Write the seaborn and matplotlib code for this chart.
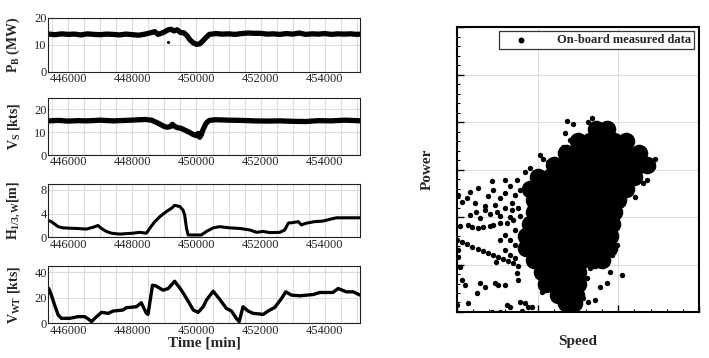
import pandas as pd
import numpy as np
import matplotlib
matplotlib.use("Agg")
import matplotlib.pyplot as plt
from matplotlib.ticker import MultipleLocator, NullFormatter
import seaborn as sns

# --- time series panels (left) ---
pb_time = [445400, 445600, 445800, 446000, 446200, 446400, 446600, 446800, 447000, 447200,
           447400, 447600, 447800, 448000, 448200, 448400, 448600, 448700, 448800, 448900,
           449000, 449100, 449200, 449300, 449400, 449500, 449600, 449700, 449800, 449900,
           450000, 450100, 450200, 450300, 450400, 450600, 450800, 451000, 451200, 451400,
           451600, 451800, 452000, 452200, 452400, 452600, 452800, 453000, 453200, 453400,
           453600, 453800, 454000, 454200, 454400, 454600, 454800, 455000, 455100]
pb_power = [14.0, 13.8, 14.1, 13.9, 14.0, 13.7, 14.1, 13.9, 13.8, 14.0,
            13.9, 13.7, 14.0, 13.8, 13.6, 14.0, 14.6, 14.9, 13.9, 14.3,
            14.8, 15.5, 15.8, 15.2, 15.6, 14.6, 14.5, 13.5, 11.8, 10.8,
            10.2, 10.4, 11.5, 12.8, 13.9, 14.2, 14.0, 14.1, 13.9, 14.2,
            14.4, 14.3, 14.3, 14.0, 14.1, 13.9, 14.2, 14.0, 14.4, 13.9,
            14.1, 14.0, 14.2, 13.9, 14.1, 14.0, 14.1, 13.9, 14.0]
pb_out_time = [449100]
pb_out_power = [11.2]

vs_time = [445400, 445700, 446000, 446300, 446600, 447000, 447400, 447800, 448100, 448400,
           448600, 448800, 449000, 449100, 449200, 449250, 449300, 449400, 449500, 449600,
           449700, 449800, 449900, 450000, 450050, 450100, 450150, 450200, 450300, 450400,
           450600, 451000, 451400, 451800, 452200, 452600, 453000, 453400, 453800, 454200,
           454600, 455000, 455100]
vs_speed = [15.0, 15.2, 14.9, 15.1, 15.0, 15.3, 15.0, 15.2, 15.4, 15.6,
            15.3, 14.0, 12.5, 12.2, 12.6, 13.5, 12.8, 12.0, 11.8, 11.2,
            10.5, 9.8, 9.0, 8.5, 9.5, 7.8, 9.0, 11.0, 14.0, 15.2,
            15.5, 15.3, 15.2, 15.0, 14.9, 15.0, 14.8, 14.7, 15.1, 15.0,
            15.3, 15.1, 15.0]

hs_time = [445400, 445480, 445690, 445840, 446260, 446570, 446780, 446930, 447040, 447190,
           447350, 447610, 448020, 448230, 448440, 448540, 448700, 448860, 449060, 449220,
           449320, 449480, 449580, 449630, 449690, 449740, 449900, 450150, 450310, 450520,
           450720, 451040, 451350, 451660, 451870, 452080, 452280, 452600, 452750, 452860,
           453010, 453170, 453270, 453430, 453680, 453940, 454200, 454360, 454770, 455100]
hs_height = [2.8, 2.65, 1.8, 1.6, 1.5, 1.4, 1.7, 2.0, 1.5, 1.0,
             0.7, 0.55, 0.7, 0.85, 0.7, 1.5, 2.65, 3.5, 4.35, 4.9,
             5.4, 5.2, 4.6, 3.8, 1.5, 0.4, 0.4, 0.4, 1.0, 1.6,
             1.8, 1.6, 1.5, 1.25, 0.85, 1.0, 0.8, 0.85, 1.25, 2.4,
             2.5, 2.65, 2.1, 2.4, 2.65, 2.75, 3.1, 3.3, 3.3, 3.3]

wt_time = [445400, 445480, 445580, 445690, 445790, 446050, 446310, 446520, 446670, 446730,
           446830, 447040, 447250, 447400, 447710, 447810, 448130, 448280, 448440, 448490,
           448630, 448730, 448960, 449120, 449320, 449530, 449690, 449900, 450050, 450210,
           450310, 450520, 450720, 450930, 451090, 451240, 451330, 451450, 451610, 451760,
           452080, 452230, 452440, 452650, 452780, 452960, 453220, 453640, 453840, 454250,
           454410, 454670, 454880, 455100]
wt_speed = [27.3, 22.0, 14.3, 6.5, 3.9, 3.9, 5.2, 5.2, 2.6, 1.3,
            3.9, 8.6, 7.8, 9.6, 10.4, 12.2, 13.0, 16.1, 7.8, 7.0,
            29.9, 29.4, 26.0, 27.3, 33.0, 26.0, 19.5, 10.4, 8.6, 13.0,
            18.2, 25.2, 19.0, 11.7, 9.6, 3.9, 1.3, 13.0, 9.6, 7.8,
            7.0, 9.6, 12.5, 19.5, 24.7, 22.1, 21.6, 22.6, 24.2, 24.2,
            27.3, 24.7, 24.7, 22.1]

# --- speed/power scatter (right) ---
# dense core of the cloud, one row per power level
core_speed = [17.2, 18.6,
              15.0, 16.5, 18.0, 19.5, 21.0,
              13.5, 15.0, 16.5, 18.0, 19.5, 21.0, 22.5,
              12.0, 13.5, 15.0, 16.5, 18.0, 19.5, 21.0, 22.5, 23.5,
              10.0, 11.5, 13.0, 14.5, 16.0, 17.5, 19.0, 20.5, 22.0,
              9.0, 10.5, 12.0, 13.5, 15.0, 16.5, 18.0, 19.5, 21.0,
              9.5, 11.0, 12.5, 14.0, 15.5, 17.0, 18.5, 20.0,
              9.5, 11.0, 12.5, 14.0, 15.5, 17.0, 18.5, 19.5,
              9.0, 10.5, 12.0, 13.5, 15.0, 16.5, 18.0, 19.2,
              8.5, 10.0, 11.5, 13.0, 14.5, 16.0, 17.5, 19.0,
              8.5, 10.0, 11.5, 13.0, 14.5, 16.0, 17.5, 18.8,
              9.5, 11.0, 12.5, 14.0, 15.5, 17.0, 18.0,
              10.5, 12.0, 13.5, 15.0,
              11.0, 12.5, 14.0, 15.0,
              12.5, 13.8, 14.8,
              13.5, 14.5]
core_power = [38.5, 38.5,
              36.0, 36.0, 36.0, 36.0, 36.0,
              33.5, 33.5, 33.5, 33.5, 33.5, 33.5, 33.5,
              31.0, 31.0, 31.0, 31.0, 31.0, 31.0, 31.0, 31.0, 31.0,
              28.5, 28.5, 28.5, 28.5, 28.5, 28.5, 28.5, 28.5, 28.5,
              26.0, 26.0, 26.0, 26.0, 26.0, 26.0, 26.0, 26.0, 26.0,
              23.5, 23.5, 23.5, 23.5, 23.5, 23.5, 23.5, 23.5,
              21.0, 21.0, 21.0, 21.0, 21.0, 21.0, 21.0, 21.0,
              18.5, 18.5, 18.5, 18.5, 18.5, 18.5, 18.5, 18.5,
              16.0, 16.0, 16.0, 16.0, 16.0, 16.0, 16.0, 16.0,
              13.5, 13.5, 13.5, 13.5, 13.5, 13.5, 13.5, 13.5,
              11.0, 11.0, 11.0, 11.0, 11.0, 11.0, 11.0,
              8.5, 8.5, 8.5, 8.5,
              6.0, 6.0, 6.0, 6.0,
              3.5, 3.5, 3.5,
              1.8, 1.8]

# scattered single readings around the cloud
pt_speed = [13.6, 14.4, 13.4, 13.1, 14.0, 10.3, 10.7, 11.3, 8.4, 9.0, 7.4, 5.9, 4.3, 6.6, 2.6, 1.6, 1.2, 0.1, 4.5, 5.9, 5.3, 7.2, 3.8, 7.8,
            16.7, 16.2, 24.5, 24.3, 23.5, 23.0, 22.1,
            0.6, 2.2, 3.5, 4.7, 5.9, 6.8, 7.6, 1.6, 4.1, 5.3, 6.6, 2.9,
            0.4, 1.4, 1.9, 2.6, 3.2, 4.1, 4.5, 5.3, 6.2, 6.9, 7.8,
            0.0, 0.6, 1.2, 1.9, 2.6, 3.2, 3.8, 4.5, 5.1, 5.7, 6.3, 6.9, 7.6, 4.8, 5.9, 6.6, 7.2,
            0.1, 0.4, 0.6, 1.0, 0.1,
            2.9, 3.5, 2.5, 4.7, 5.1, 5.9, 7.4, 7.6, 1.4, 0.0, 4.3, 5.3, 6.2, 6.6, 7.8, 8.4, 8.8, 8.1, 9.3, 10.5,
            7.2, 6.6, 5.9, 5.3, 7.2, 6.8, 5.0, 3.5, 2.4,
            20.4, 19.0, 18.6, 17.7, 16.1, 17.1, 16.2, 15.6, 15.2, 16.5, 18.1, 19.2, 19.8]
pt_power = [40.2, 39.6, 37.7, 34.7, 36.2, 33.1, 32.2, 31.6, 29.5, 30.3, 27.8, 27.8, 27.6, 26.5, 26.1, 25.3, 24.0, 24.6, 25.7, 25.1, 24.0, 24.6, 24.4, 25.7,
            40.8, 40.0, 32.2, 30.5, 27.8, 27.2, 24.2,
            23.2, 22.9, 22.3, 22.5, 21.9, 22.9, 21.9, 20.4, 20.6, 20.2, 20.0, 19.8,
            18.1, 18.3, 17.9, 17.7, 17.9, 18.1, 18.3, 18.7, 18.7, 19.4, 20.2,
            15.2, 14.7, 14.3, 13.7, 13.3, 12.8, 12.4, 12.0, 11.6, 11.2, 10.7, 10.3, 9.7, 10.5, 13.1, 12.0, 11.4,
            11.6, 9.5, 6.7, 5.7, 13.1,
            6.1, 5.3, 4.0, 6.1, 5.7, 5.7, 8.2, 6.7, 1.9, 1.5, 0.0, 0.0, 1.5, 1.1, 2.1, 1.9, 1.1, 0.2, 1.1, 4.2,
            17.3, 15.2, 16.2, 15.2, 14.1, 21.5, 21.1, 21.5, 21.1,
            7.8, 8.4, 6.1, 5.3, 7.2, 2.5, 2.1, 2.9, 7.8, 9.3, 10.5, 12.0, 14.1]

ylabels = [r"P$_\mathrm{B}$ (MW)", r"V$_\mathrm{S}$ [kts]", r"H$_\mathrm{1/3,W}$[m]", r"V$_\mathrm{WT}$ [kts]"]

sns.set_theme(style="whitegrid")
plt.rcParams["font.family"] = ["Liberation Serif", "DejaVu Serif"]
plt.rcParams["mathtext.fontset"] = "custom"
plt.rcParams["mathtext.rm"] = "Liberation Serif:bold"
plt.rcParams["mathtext.bf"] = "Liberation Serif:bold"
plt.rcParams["mathtext.it"] = "Liberation Serif:bold:italic"

fig = plt.figure(figsize=(7.09, 3.58), dpi=100)

panel_boxes = [[0.068, 0.799, 0.44, 0.151],
               [0.068, 0.567, 0.44, 0.159],
               [0.068, 0.337, 0.44, 0.149],
               [0.068, 0.097, 0.44, 0.160]]
series = [(pb_time, pb_power, (0, 20), 10, 3.8),
          (vs_time, vs_speed, (0, 25), 10, 3.8),
          (hs_time, hs_height, (0, 9), 4, 2.2),
          (wt_time, wt_speed, (0, 45), 20, 2.4)]

for i, (box, (t, v, ylim, ystep, lw)) in enumerate(zip(panel_boxes, series)):
    ax = fig.add_axes(box)
    sns.lineplot(x=t, y=v, ax=ax, color="black", linewidth=lw, sort=False, estimator=None)
    if i == 0:
        sns.scatterplot(x=pb_out_time, y=pb_out_power, ax=ax, color="black", s=5, linewidth=0)
    ax.set_xlim(445380, 455100)
    ax.set_ylim(*ylim)
    ax.xaxis.set_major_locator(MultipleLocator(2000))
    ax.xaxis.set_minor_locator(MultipleLocator(500))
    ax.yaxis.set_major_locator(MultipleLocator(ystep))
    ax.grid(which="both", axis="x", color="#dcdcdc", linewidth=0.8)
    ax.grid(which="major", axis="y", color="#dcdcdc", linewidth=0.8)
    ax.tick_params(axis="both", which="both", length=0, labelsize=9, pad=1)
    for sp in ax.spines.values():
        sp.set_color("#222222")
        sp.set_linewidth(0.8)
    ax.set_ylabel(ylabels[i], fontsize=10, fontweight="bold", labelpad=6)
    ax.yaxis.set_label_coords(-0.085, 0.5)
    if i == 3:
        ax.set_xlabel("Time [min]", fontsize=11, fontweight="bold", labelpad=0)

# --- scatter panel ---
axs = fig.add_axes([0.6446, 0.1285, 0.3413, 0.796])
sns.scatterplot(x=core_speed, y=core_power, ax=axs, color="black", s=160, linewidth=0, legend=False)
sns.scatterplot(x=pt_speed, y=pt_power, ax=axs, color="black", s=15, linewidth=0,
                label="On-board measured data")
axs.set_xlim(0, 30)
axs.set_ylim(0, 60)
axs.xaxis.set_major_locator(MultipleLocator(10))
axs.xaxis.set_minor_locator(MultipleLocator(2))
axs.yaxis.set_major_locator(MultipleLocator(10))
axs.yaxis.set_minor_locator(MultipleLocator(2))
axs.xaxis.set_major_formatter(NullFormatter())
axs.yaxis.set_major_formatter(NullFormatter())
axs.grid(which="major", color="#dcdcdc", linewidth=0.8)
axs.grid(which="minor", visible=False)
axs.tick_params(axis="both", which="major", direction="in", length=5, width=1, color="black",
                bottom=True, left=True)
axs.tick_params(axis="both", which="minor", direction="in", length=2.5, width=0.8, color="black",
                bottom=True, left=True)
for sp in axs.spines.values():
    sp.set_color("black")
    sp.set_linewidth(1.5)
axs.set_xlabel("Speed", fontsize=11, fontweight="bold", labelpad=13)
axs.set_ylabel("Power", fontsize=11, fontweight="bold", labelpad=13)

leg = axs.legend(loc="upper right", bbox_to_anchor=(0.98, 0.986), borderaxespad=0,
                 frameon=True, fancybox=False, framealpha=1, edgecolor="#333333",
                 prop={"weight": "bold", "size": 9}, handlelength=3.0, handletextpad=1.4,
                 borderpad=0.25, markerscale=1.1)
leg.get_frame().set_linewidth(0.9)

fig.savefig("out.png", dpi=100, facecolor="white")
